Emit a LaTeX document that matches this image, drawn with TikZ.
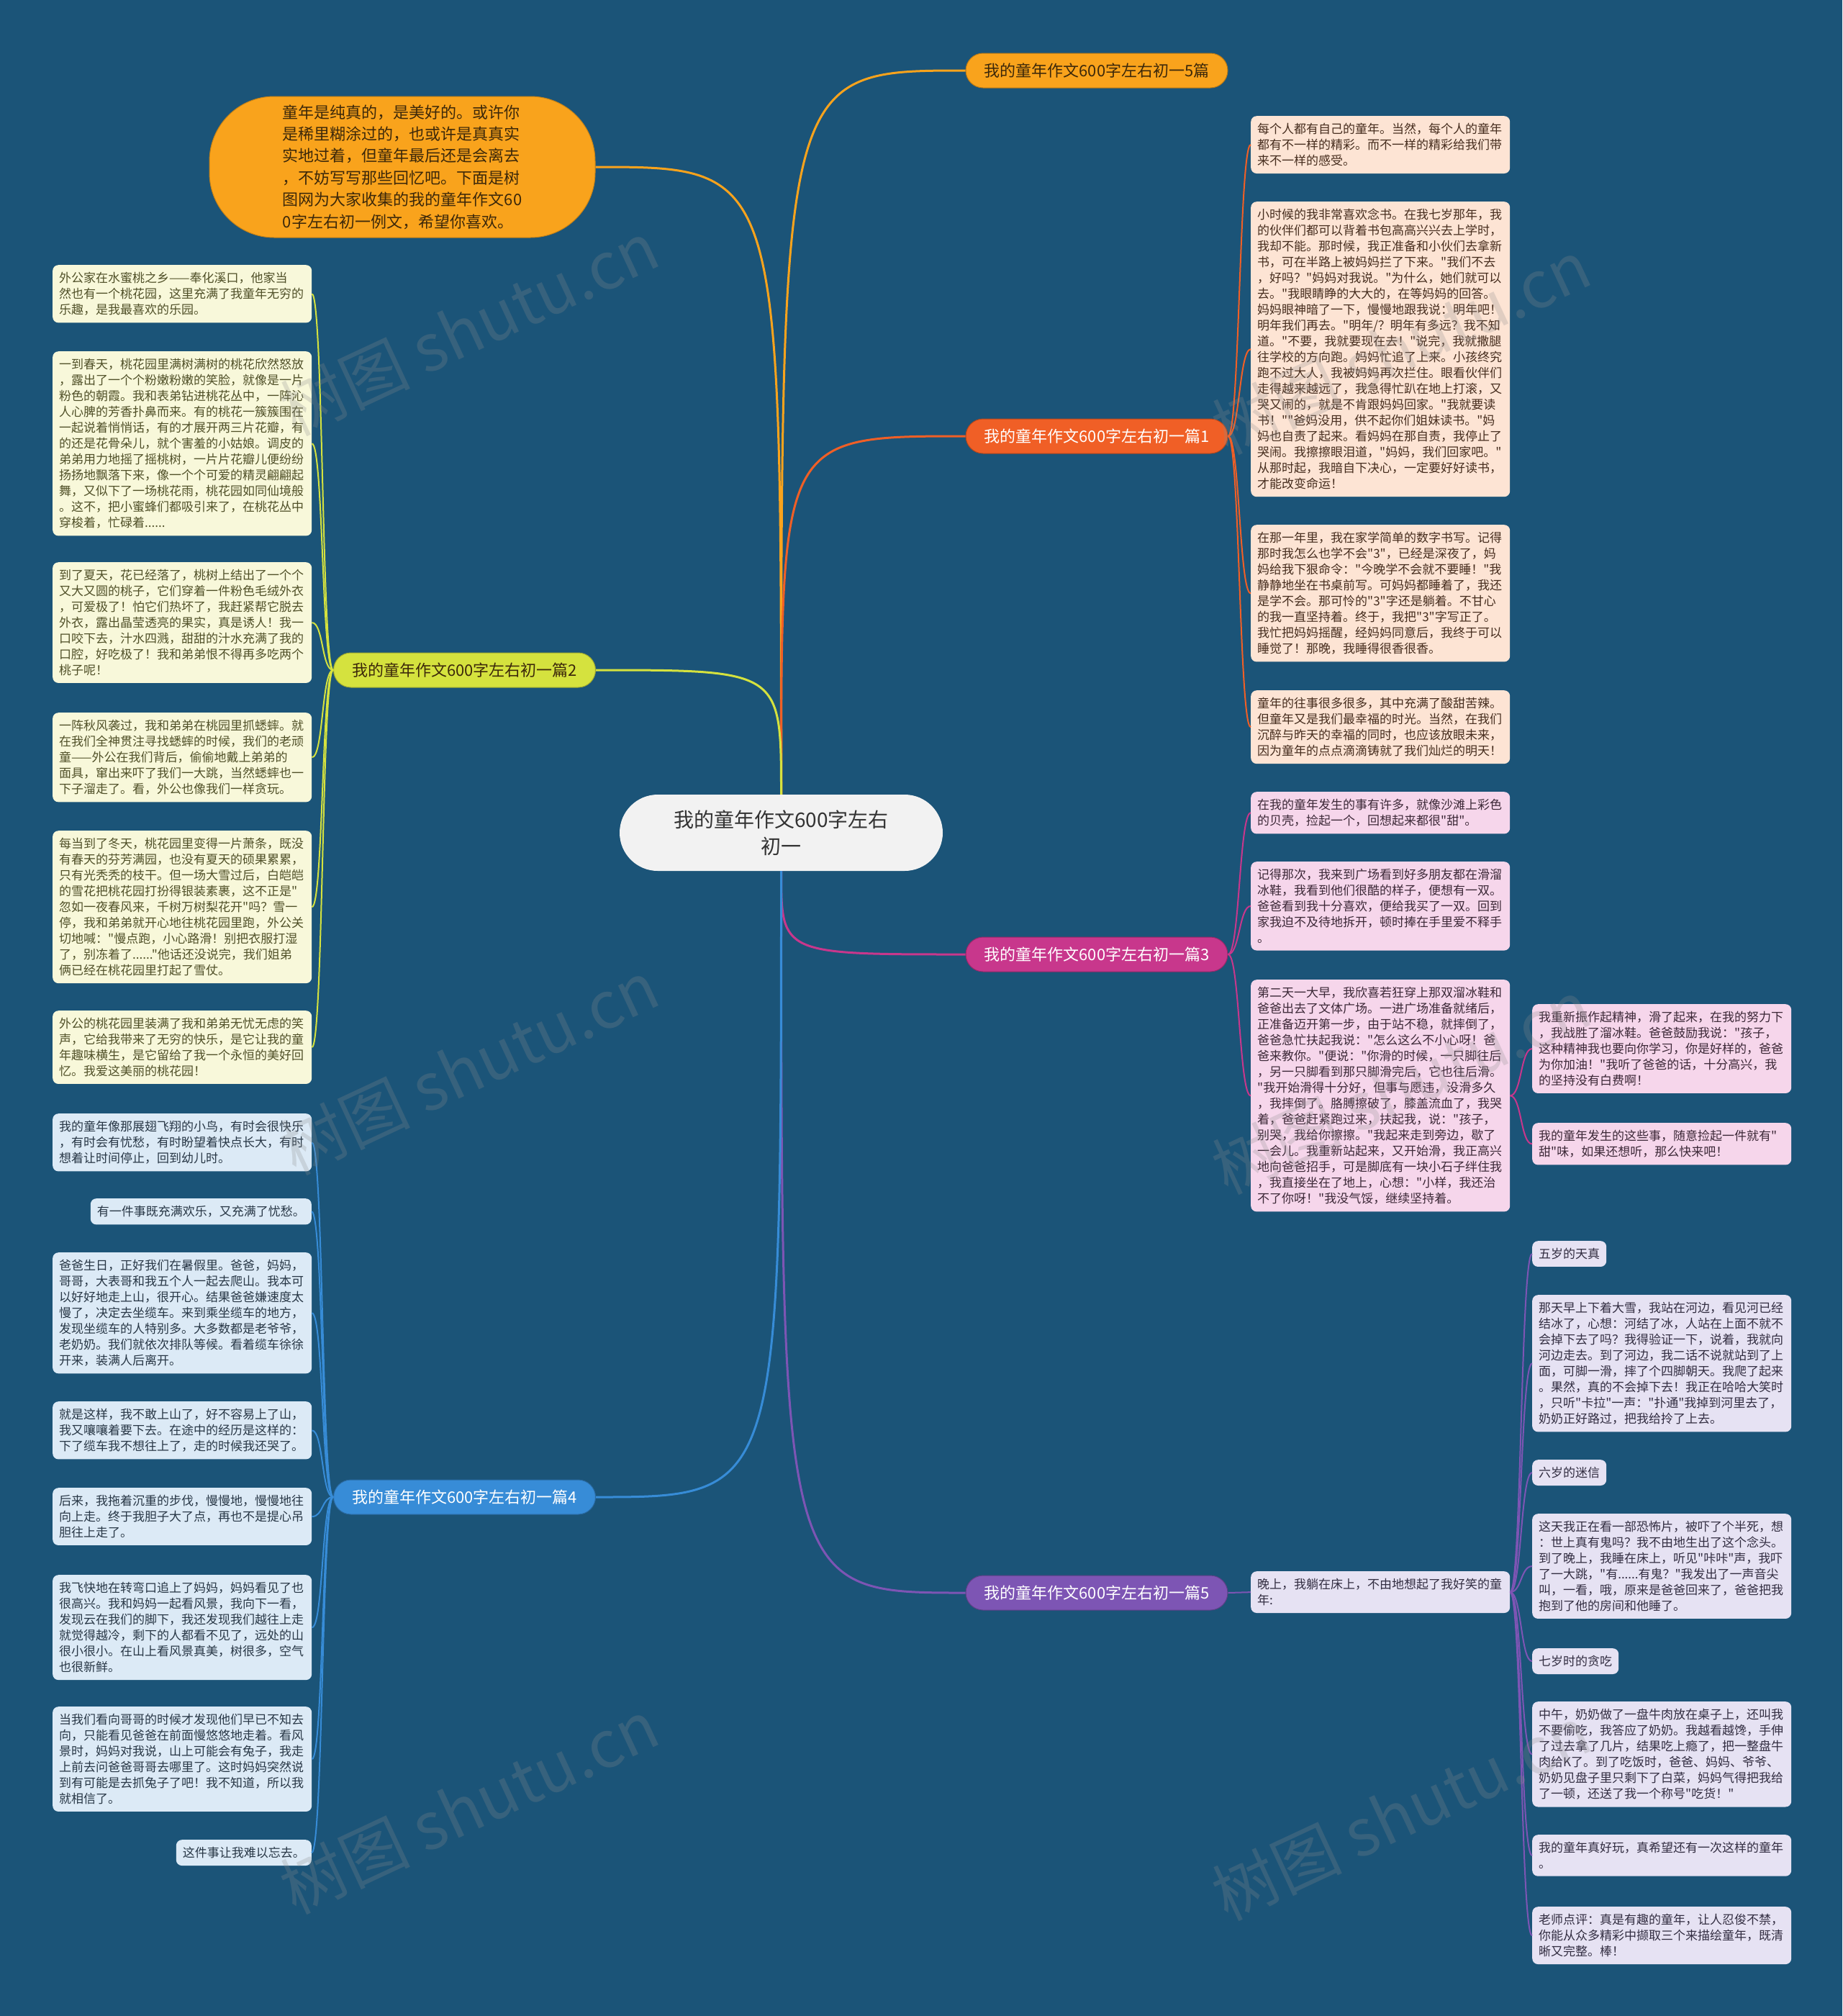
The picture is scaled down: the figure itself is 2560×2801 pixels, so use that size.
\documentclass[tikz,border=0pt]{standalone}
\usepackage{fontspec}
\setmainfont{Noto Sans CJK SC}[Ligatures=TeXOff]
\definecolor{bg}{RGB}{27,84,120}
\definecolor{corange}{RGB}{249,163,28}
\definecolor{cred}{RGB}{240,95,38}
\definecolor{cyg}{RGB}{213,226,62}
\definecolor{cmag}{RGB}{200,55,140}
\definecolor{cblue}{RGB}{55,140,215}
\definecolor{cpur}{RGB}{125,85,180}
\definecolor{fpeach}{RGB}{253,228,212}
\definecolor{fyel}{RGB}{248,248,218}
\definecolor{fblue}{RGB}{220,234,246}
\definecolor{fpink}{RGB}{246,214,235}
\definecolor{flav}{RGB}{230,226,243}
\definecolor{tpeach}{RGB}{70,45,30}
\definecolor{tyel}{RGB}{80,80,40}
\definecolor{tblue}{RGB}{40,55,70}
\definecolor{tpink}{RGB}{60,40,55}
\definecolor{tlav}{RGB}{50,45,65}
\definecolor{tdark}{RGB}{60,40,10}
\definecolor{fcenter}{RGB}{242,242,242}
\definecolor{wmgray}{RGB}{140,140,140}
\begin{document}
\begin{tikzpicture}[x=1pt,y=-1pt,
  box/.style={rounded corners=8pt, inner xsep=9pt, inner ysep=10pt, align=left,
    font=\fontsize{17}{22}\selectfont},
  wbox/.style={box, text width=342pt, anchor=north west},
  ybox/.style={wbox, fill=fyel, text=tyel},
  bbox/.style={wbox, fill=fblue, text=tblue},
  pbox/.style={wbox, fill=fpeach, text=tpeach},
  kbox/.style={wbox, fill=fpink, text=tpink},
  ubox/.style={wbox, fill=flav, text=tlav},
  lbl/.style={rounded corners=24pt, minimum width=364pt, minimum height=48pt,
    inner sep=0pt, font=\fontsize{22}{26}\selectfont, line width=1pt},
  mainline/.style={line width=3pt},
  subline/.style={line width=2pt},
  wm/.style={font=\fontsize{90}{100}\selectfont, text=wmgray, text opacity=0.25, rotate=25}
]
\useasboundingbox (0,0) rectangle (2560,2801);
\fill[bg] (0,0) rectangle (2560,2801);

% center
\node[fill=fcenter, text=black!80, rounded corners=53pt, minimum width=449pt, minimum height=106pt,
  align=center, font=\fontsize{28}{37}\selectfont] (C) at (1085.5,1157) {我的童年作文600字左右\\初一};

% intro bubble
\node[fill=corange, draw=corange!80!black, line width=1pt, rounded corners=90pt, minimum width=536pt, minimum height=196pt,
  align=left, text=tdark, font=\fontsize{22}{30.4}\selectfont] (I) at (559,232) {童年是纯真的，是美好的。或许你\\
是稀里糊涂过的，也或许是真真实\\
实地过着，但童年最后还是会离去\\
，不妨写写那些回忆吧。下面是树\\
图网为大家收集的我的童年作文60\\
0字左右初一例文，希望你喜欢。};

% branch labels
\node[lbl, fill=corange, draw=corange!75!black, text=tdark] (L5) at (1524,98) {我的童年作文600字左右初一5篇};
\node[lbl, fill=cred, draw=cred!75!black, text=white] (L1) at (1524,606) {我的童年作文600字左右初一篇1};
\node[lbl, fill=cmag, draw=cmag!75!black, text=white] (L3) at (1524,1326) {我的童年作文600字左右初一篇3};
\node[lbl, fill=cpur, draw=cpur!75!black, text=white] (L6) at (1524,2213) {我的童年作文600字左右初一篇5};
\node[lbl, fill=cyg, draw=cyg!75!black, text=tdark] (L2) at (645.5,931) {我的童年作文600字左右初一篇2};
\node[lbl, fill=cblue, draw=cblue!75!black, text=white] (L4) at (645.5,2080) {我的童年作文600字左右初一篇4};

% main connectors
\draw[mainline, corange] (C.north) .. controls (C.north |- I.east) .. (I.east);
\draw[mainline, corange] (C.north) .. controls (C.north |- L5.west) .. (L5.west);
\draw[mainline, cred] (C.north) .. controls (C.north |- L1.west) .. (L1.west);
\draw[mainline, cyg] (C.north) .. controls (C.north |- L2.east) .. (L2.east);
\draw[mainline, cmag] (C.south) .. controls (C.south |- L3.west) .. (L3.west);
\draw[mainline, cpur] (C.south) .. controls (C.south |- L6.west) .. (L6.west);
\draw[mainline, cblue] (C.south) .. controls (C.south |- L4.east) .. (L4.east);

% ---------- 篇2 (yellow) ----------
\node[ybox] (Y1) at (73,368) {外公家在水蜜桃之乡——奉化溪口，他家当\\
然也有一个桃花园，这里充满了我童年无穷的\\
乐趣，是我最喜欢的乐园。};
\node[ybox] (Y2) at (73,488) {一到春天，桃花园里满树满树的桃花欣然怒放\\
，露出了一个个粉嫩粉嫩的笑脸，就像是一片\\
粉色的朝霞。我和表弟钻进桃花丛中，一阵沁\\
人心脾的芳香扑鼻而来。有的桃花一簇簇围在\\
一起说着悄悄话，有的才展开两三片花瓣，有\\
的还是花骨朵儿，就个害羞的小姑娘。调皮的\\
弟弟用力地摇了摇桃树，一片片花瓣儿便纷纷\\
扬扬地飘落下来，像一个个可爱的精灵翩翩起\\
舞，又似下了一场桃花雨，桃花园如同仙境般\\
。这不，把小蜜蜂们都吸引来了，在桃花丛中\\
穿梭着，忙碌着......};
\node[ybox] (Y3) at (73,781) {到了夏天，花已经落了，桃树上结出了一个个\\
又大又圆的桃子，它们穿着一件粉色毛绒外衣\\
，可爱极了！怕它们热坏了，我赶紧帮它脱去\\
外衣，露出晶莹透亮的果实，真是诱人！我一\\
口咬下去，汁水四溅，甜甜的汁水充满了我的\\
口腔，好吃极了！我和弟弟恨不得再多吃两个\\
桃子呢！};
\node[ybox] (Y4) at (73,990) {一阵秋风袭过，我和弟弟在桃园里抓蟋蟀。就\\
在我们全神贯注寻找蟋蟀的时候，我们的老顽\\
童——外公在我们背后，偷偷地戴上弟弟的\\
面具，窜出来吓了我们一大跳，当然蟋蟀也一\\
下子溜走了。看，外公也像我们一样贪玩。};
\node[ybox] (Y5) at (73,1154) {每当到了冬天，桃花园里变得一片萧条，既没\\
有春天的芬芳满园，也没有夏天的硕果累累，\\
只有光秃秃的枝干。但一场大雪过后，白皑皑\\
的雪花把桃花园打扮得银装素裹，这不正是"\\
忽如一夜春风来，千树万树梨花开"吗？雪一\\
停，我和弟弟就开心地往桃花园里跑，外公关\\
切地喊："慢点跑，小心路滑！别把衣服打湿\\
了，别冻着了......"他话还没说完，我们姐弟\\
俩已经在桃花园里打起了雪仗。};
\node[ybox] (Y6) at (73,1404) {外公的桃花园里装满了我和弟弟无忧无虑的笑\\
声，它给我带来了无穷的快乐，是它让我的童\\
年趣味横生，是它留给了我一个永恒的美好回\\
忆。我爱这美丽的桃花园！};
\foreach \b in {Y1,Y2,Y3,Y4,Y5,Y6}
  \draw[subline, cyg] (L2.west) .. controls +(-16,0) and +(16,0) .. (\b.east);

% ---------- 篇4 (blue) ----------
\node[bbox] (B1) at (73,1547) {我的童年像那展翅飞翔的小鸟，有时会很快乐\\
，有时会有忧愁，有时盼望着快点长大，有时\\
想着让时间停止，回到幼儿时。};
\node[box, fill=fblue, text=tblue, anchor=north east] (B2) at (433,1665) {有一件事既充满欢乐，又充满了忧愁。};
\node[bbox] (B3) at (73,1740) {爸爸生日，正好我们在暑假里。爸爸，妈妈，\\
哥哥，大表哥和我五个人一起去爬山。我本可\\
以好好地走上山，很开心。结果爸爸嫌速度太\\
慢了，决定去坐缆车。来到乘坐缆车的地方，\\
发现坐缆车的人特别多。大多数都是老爷爷，\\
老奶奶。我们就依次排队等候。看着缆车徐徐\\
开来，装满人后离开。};
\node[bbox] (B4) at (73,1947) {就是这样，我不敢上山了，好不容易上了山，\\
我又嚷嚷着要下去。在途中的经历是这样的：\\
下了缆车我不想往上了，走的时候我还哭了。};
\node[bbox] (B5) at (73,2067) {后来，我拖着沉重的步伐，慢慢地，慢慢地往\\
向上走。终于我胆子大了点，再也不是提心吊\\
胆往上走了。};
\node[bbox] (B6) at (73,2188) {我飞快地在转弯口追上了妈妈，妈妈看见了也\\
很高兴。我和妈妈一起看风景，我向下一看，\\
发现云在我们的脚下，我还发现我们越往上走\\
就觉得越冷，剩下的人都看不见了，远处的山\\
很小很小。在山上看风景真美，树很多，空气\\
也很新鲜。};
\node[bbox] (B7) at (73,2371) {当我们看向哥哥的时候才发现他们早已不知去\\
向，只能看见爸爸在前面慢悠悠地走着。看风\\
景时，妈妈对我说，山上可能会有兔子，我走\\
上前去问爸爸哥哥去哪里了。这时妈妈突然说\\
到有可能是去抓兔子了吧！我不知道，所以我\\
就相信了。};
\node[box, fill=fblue, text=tblue, anchor=north east] (B8) at (433,2556) {这件事让我难以忘去。};
\foreach \b in {B1,B2,B3,B4,B5,B6,B7,B8}
  \draw[subline, cblue] (L4.west) .. controls +(-16,0) and +(16,0) .. (\b.east);

% ---------- 篇1 (peach) ----------
\node[pbox] (P1) at (1738,161) {每个人都有自己的童年。当然，每个人的童年\\
都有不一样的精彩。而不一样的精彩给我们带\\
来不一样的感受。};
\node[pbox] (P2) at (1738,280) {小时候的我非常喜欢念书。在我七岁那年，我\\
的伙伴们都可以背着书包高高兴兴去上学时，\\
我却不能。那时候，我正准备和小伙们去拿新\\
书，可在半路上被妈妈拦了下来。"我们不去\\
，好吗？"妈妈对我说。"为什么，她们就可以\\
去。"我眼睛睁的大大的，在等妈妈的回答。\\
妈妈眼神暗了一下，慢慢地跟我说：明年吧！\\
明年我们再去。"明年/？明年有多远？我不知\\
道。"不要，我就要现在去！"说完，我就撒腿\\
往学校的方向跑。妈妈忙追了上来。小孩终究\\
跑不过大人，我被妈妈再次拦住。眼看伙伴们\\
走得越来越远了，我急得忙趴在地上打滚，又\\
哭又闹的，就是不肯跟妈妈回家。"我就要读\\
书！""爸妈没用，供不起你们姐妹读书。"妈\\
妈也自责了起来。看妈妈在那自责，我停止了\\
哭闹。我擦擦眼泪道，"妈妈，我们回家吧。"\\
从那时起，我暗自下决心，一定要好好读书，\\
才能改变命运！};
\node[pbox] (P3) at (1738,729) {在那一年里，我在家学简单的数字书写。记得\\
那时我怎么也学不会"3"，已经是深夜了，妈\\
妈给我下狠命令："今晚学不会就不要睡！"我\\
静静地坐在书桌前写。可妈妈都睡着了，我还\\
是学不会。那可怜的"3"字还是躺着。不甘心\\
的我一直坚持着。终于，我把"3"字写正了。\\
我忙把妈妈摇醒，经妈妈同意后，我终于可以\\
睡觉了！那晚，我睡得很香很香。};
\node[pbox] (P4) at (1738,959) {童年的往事很多很多，其中充满了酸甜苦辣。\\
但童年又是我们最幸福的时光。当然，在我们\\
沉醉与昨天的幸福的同时，也应该放眼未来，\\
因为童年的点点滴滴铸就了我们灿烂的明天！};
\foreach \b in {P1,P2,P3,P4}
  \draw[subline, cred] (L1.east) .. controls +(16,0) and +(-16,0) .. (\b.west);

% ---------- 篇3 (pink) ----------
\node[kbox] (K1) at (1738,1100) {在我的童年发生的事有许多，就像沙滩上彩色\\
的贝壳，捡起一个，回想起来都很"甜"。};
\node[kbox] (K2) at (1738,1197) {记得那次，我来到广场看到好多朋友都在滑溜\\
冰鞋，我看到他们很酷的样子，便想有一双。\\
爸爸看到我十分喜欢，便给我买了一双。回到\\
家我迫不及待地拆开，顿时捧在手里爱不释手\\
。};
\node[kbox] (K3) at (1738,1361) {第二天一大早，我欣喜若狂穿上那双溜冰鞋和\\
爸爸出去了文体广场。一进广场准备就绪后，\\
正准备迈开第一步，由于站不稳，就摔倒了，\\
爸爸急忙扶起我说："怎么这么不小心呀！爸\\
爸来教你。"便说："你滑的时候，一只脚往后\\
，另一只脚看到那只脚滑完后，它也往后滑。\\
"我开始滑得十分好，但事与愿违，没滑多久\\
，我摔倒了。胳膊擦破了，膝盖流血了，我哭\\
着，爸爸赶紧跑过来，扶起我，说："孩子，\\
别哭，我给你擦擦。"我起来走到旁边，歇了\\
一会儿。我重新站起来，又开始滑，我正高兴\\
地向爸爸招手，可是脚底有一块小石子绊住我\\
，我直接坐在了地上，心想："小样，我还治\\
不了你呀！"我没气馁，继续坚持着。};
\node[kbox] (K4) at (2129,1395) {我重新振作起精神，滑了起来，在我的努力下\\
，我战胜了溜冰鞋。爸爸鼓励我说："孩子，\\
这种精神我也要向你学习，你是好样的，爸爸\\
为你加油！"我听了爸爸的话，十分高兴，我\\
的坚持没有白费啊！};
\node[kbox] (K5) at (2129,1560) {我的童年发生的这些事，随意捡起一件就有"\\
甜"味，如果还想听，那么快来吧！};
\foreach \b in {K1,K2,K3}
  \draw[subline, cmag] (L3.east) .. controls +(16,0) and +(-16,0) .. (\b.west);
\foreach \b in {K4,K5}
  \draw[subline, cmag] (K3.east) .. controls +(16,0) and +(-16,0) .. (\b.west);

% ---------- 篇5 (lavender) ----------
\node[ubox] (U0) at (1738,2183) {晚上，我躺在床上，不由地想起了我好笑的童\\
年:};
\node[box, fill=flav, text=tlav, anchor=north west] (U1) at (2129,1724) {五岁的天真};
\node[ubox] (U2) at (2129,1799) {那天早上下着大雪，我站在河边，看见河已经\\
结冰了，心想：河结了冰，人站在上面不就不\\
会掉下去了吗？我得验证一下，说着，我就向\\
河边走去。到了河边，我二话不说就站到了上\\
面，可脚一滑，摔了个四脚朝天。我爬了起来\\
。果然，真的不会掉下去！我正在哈哈大笑时\\
，只听"卡拉"一声："扑通"我掉到河里去了，\\
奶奶正好路过，把我给拎了上去。};
\node[box, fill=flav, text=tlav, anchor=north west] (U3) at (2129,2028) {六岁的迷信};
\node[ubox] (U4) at (2129,2103) {这天我正在看一部恐怖片，被吓了个半死，想\\
：世上真有鬼吗？我不由地生出了这个念头。\\
到了晚上，我睡在床上，听见"咔咔"声，我吓\\
了一大跳，"有......有鬼？"我发出了一声音尖\\
叫，一看，哦，原来是爸爸回来了，爸爸把我\\
抱到了他的房间和他睡了。};
\node[box, fill=flav, text=tlav, anchor=north west] (U5) at (2129,2290) {七岁时的贪吃};
\node[ubox] (U6) at (2129,2364) {中午，奶奶做了一盘牛肉放在桌子上，还叫我\\
不要偷吃，我答应了奶奶。我越看越馋，手伸\\
了过去拿了几片，结果吃上瘾了，把一整盘牛\\
肉给K了。到了吃饭时，爸爸、妈妈、爷爷、\\
奶奶见盘子里只剩下了白菜，妈妈气得把我给\\
了一顿，还送了我一个称号"吃货！"};
\node[ubox] (U7) at (2129,2549) {我的童年真好玩，真希望还有一次这样的童年\\
。};
\node[ubox] (U8) at (2129,2649) {老师点评：真是有趣的童年，让人忍俊不禁，\\
你能从众多精彩中撷取三个来描绘童年，既清\\
晰又完整。棒！};
\draw[subline, cpur] (L6.east) .. controls +(16,0) and +(-16,0) .. (U0.west);
\foreach \b in {U1,U2,U3,U4,U5,U6,U7,U8}
  \draw[subline, cpur] (U0.east) .. controls +(16,0) and +(-16,0) .. (\b.west);

% watermarks
\node[wm] (wm1) at (652,456) {树图 shutu.cn};
\node[wm] (wm2) at (1947,482) {树图 shutu.cn};
\node[wm] (wm3) at (652,1483) {树图 shutu.cn};
\node[wm] (wm4) at (1947,1510) {树图 shutu.cn};
\node[wm] (wm5) at (652,2510) {树图 shutu.cn};
\node[wm] (wm6) at (1947,2519) {树图 shutu.cn};
\end{tikzpicture}
\end{document}
